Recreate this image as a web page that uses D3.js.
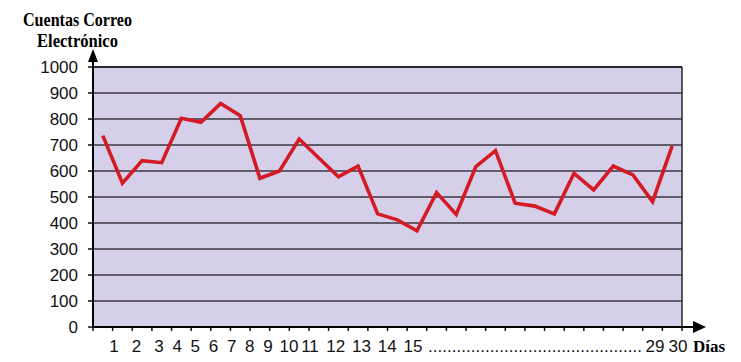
<!DOCTYPE html>
<html><head><meta charset="utf-8">
<script src="https://cdn.jsdelivr.net/npm/d3@7"></script>
<style>html,body{margin:0;padding:0;background:#fff;}svg{display:block;}</style>
</head><body>
<svg id="c" width="741" height="362"></svg>
<script>
// ---- data ----
const days = d3.range(1, 31);
const emails = [736, 553, 640, 632, 803, 787, 860, 813, 572, 600,
                723, 650, 578, 619, 435, 412, 370, 517, 433, 617,
                678, 476, 465, 435, 591, 527, 619, 585, 482, 697];
const yTicks = [0, 100, 200, 300, 400, 500, 600, 700, 800, 900, 1000];
const xLabels = ["1","2","3","4","5","6","7","8","9","10","11","12","13","14","15","29","30"];
const yTitle = ["Cuentas Correo", "Electrónico"];
const xTitle = "Días";

// ---- layout ----
const L = 93, R = 682, T = 67, B = 327;
const svg = d3.select("#c");
const x = d3.scaleBand().domain(days).range([L, R]).padding(0);
const y = d3.scaleLinear().domain([0, 1000]).range([B, T]);
// label row is typed text with irregular spacing
const xl = d3.scaleLinear().domain([1, 3, 9, 11, 15, 29, 30]).range([114, 159, 268, 310, 413, 655, 678]);

// plot background
svg.append("rect").attr("x", L).attr("y", T).attr("width", R - L).attr("height", B - T)
  .attr("fill", "#d6cfea");

// grid lines
svg.append("g").selectAll("line").data(yTicks.filter(d => d > 0 && d < 1000)).join("line")
  .attr("x1", L).attr("x2", R).attr("y1", d => y(d)).attr("y2", d => y(d))
  .attr("stroke", "#3b3640").attr("stroke-width", 1.4);
// top & right border
svg.append("line").attr("x1", L).attr("x2", R).attr("y1", T).attr("y2", T)
  .attr("stroke", "#2a2530").attr("stroke-width", 2);
svg.append("line").attr("x1", R).attr("x2", R).attr("y1", T).attr("y2", B)
  .attr("stroke", "#2a2530").attr("stroke-width", 1.5);

// y ticks
svg.append("g").selectAll("line").data(yTicks).join("line")
  .attr("x1", L - 5).attr("x2", L).attr("y1", d => y(d)).attr("y2", d => y(d))
  .attr("stroke", "#111").attr("stroke-width", 1.5);
svg.append("g").selectAll("text").data(yTicks).join("text")
  .attr("x", 78).attr("y", d => y(d) + 6).attr("text-anchor", "end")
  .attr("font-family", "Liberation Sans, Arial, sans-serif").attr("font-size", 17)
  .attr("fill", "#111").text(d => d);

// x ticks at band boundaries
const bounds = days.map(d => x(d)).concat([R]);
svg.append("g").selectAll("line").data(bounds).join("line")
  .attr("x1", d => d).attr("x2", d => d).attr("y1", B).attr("y2", B + 4)
  .attr("stroke", "#111").attr("stroke-width", 1.5);

// axes with arrows
svg.append("line").attr("x1", L).attr("x2", L).attr("y1", B + 1).attr("y2", 60)
  .attr("stroke", "#000").attr("stroke-width", 2);
svg.append("path").attr("d", `M${L},49 L${L - 5},62 L${L + 5},62 Z`).attr("fill", "#000");
svg.append("line").attr("x1", L - 1).attr("x2", 695).attr("y1", B).attr("y2", B)
  .attr("stroke", "#000").attr("stroke-width", 2);
svg.append("path").attr("d", `M706,${B} L693,${B - 6} L693,${B + 6} Z`).attr("fill", "#000");

// x labels
svg.append("g").selectAll("text").data(xLabels).join("text")
  .attr("x", d => xl(+d)).attr("y", 352).attr("text-anchor", "middle")
  .attr("font-family", "Liberation Sans, Arial, sans-serif").attr("font-size", 17)
  .attr("fill", "#111").text(d => d);
svg.append("text").attr("x", 428).attr("y", 352)
  .attr("font-family", "Liberation Sans, Arial, sans-serif").attr("font-size", 17)
  .attr("fill", "#111").attr("textLength", 214).attr("lengthAdjust", "spacing")
  .text(".".repeat(45));

// titles
const tLen = [109, 81];
svg.append("g").selectAll("text").data(yTitle).join("text")
  .attr("x", (d, i) => 77.5 - tLen[i] / 2).attr("y", (d, i) => 26 + i * 21)
  .attr("font-family", "Liberation Serif, Times New Roman, serif").attr("font-weight", "bold")
  .attr("font-size", 18).attr("fill", "#000")
  .attr("textLength", (d, i) => tLen[i]).attr("lengthAdjust", "spacingAndGlyphs")
  .text(d => d);
svg.append("text").attr("x", 693).attr("y", 352)
  .attr("font-family", "Liberation Serif, Times New Roman, serif").attr("font-weight", "bold")
  .attr("font-size", 17).attr("fill", "#000")
  .attr("textLength", 32).attr("lengthAdjust", "spacingAndGlyphs").text(xTitle);

// data line
const line = d3.line().x((d, i) => x(days[i]) + x.bandwidth() / 2).y(d => y(d));
svg.append("path").datum(emails).attr("d", line)
  .attr("fill", "none").attr("stroke", "#d41a24").attr("stroke-width", 3.6)
  .attr("stroke-linejoin", "miter").attr("stroke-linecap", "butt");
</script>
</body></html>
